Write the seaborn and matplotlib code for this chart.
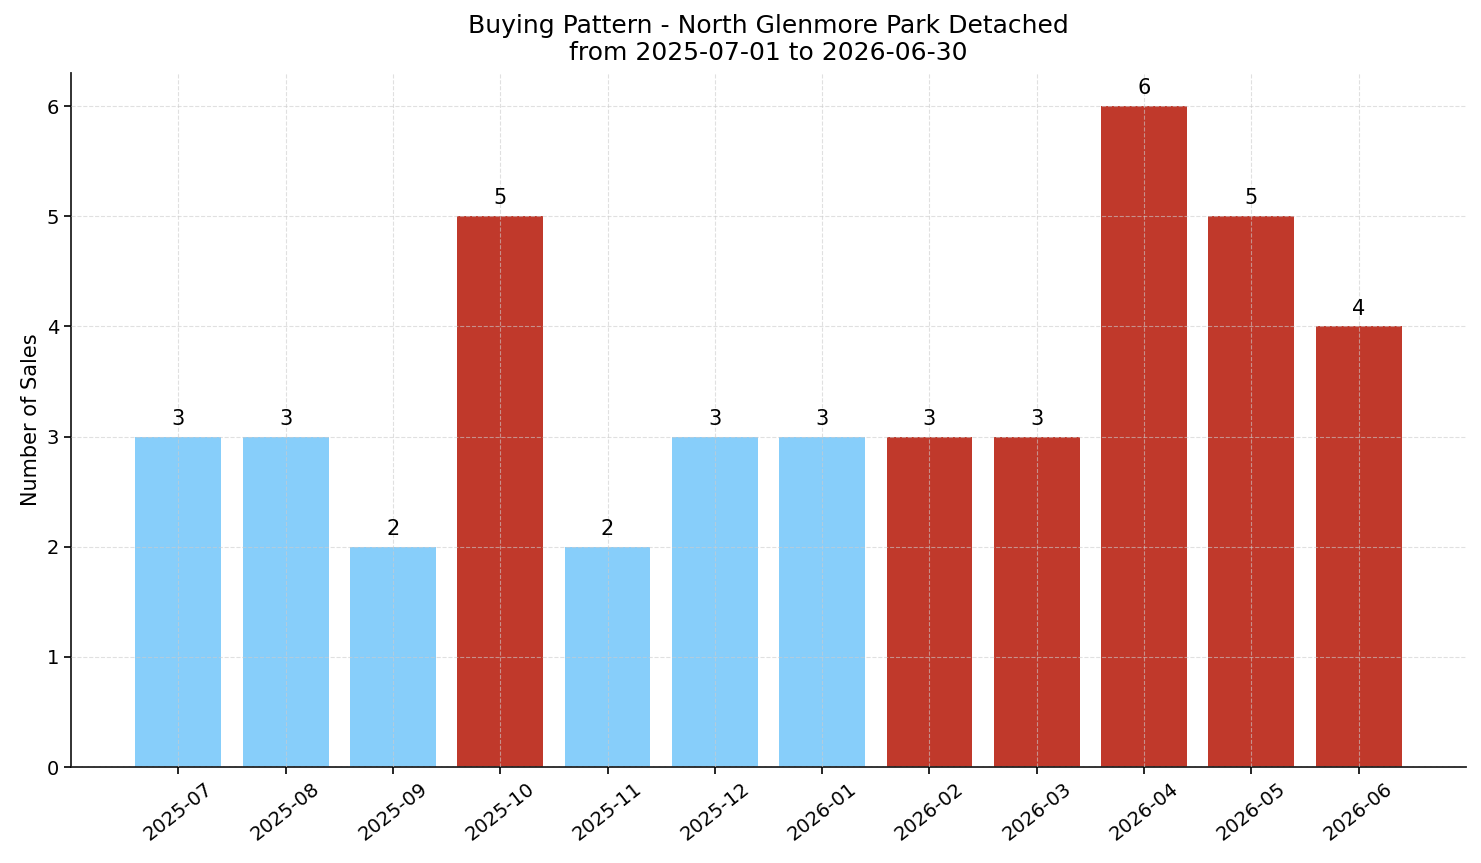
import matplotlib
matplotlib.use("Agg")
import matplotlib.pyplot as plt
import seaborn as sns
import pandas as pd

months = ["2025-07", "2025-08", "2025-09", "2025-10", "2025-11", "2025-12",
          "2026-01", "2026-02", "2026-03", "2026-04", "2026-05", "2026-06"]
sales = [3, 3, 2, 5, 2, 3, 3, 3, 3, 6, 5, 4]
highlight = [False, False, False, True, False, False, False, True, True, True, True, True]

sns.set_style("white")
plt.rcParams['font.family'] = ['DejaVu Sans']
plt.rcParams['text.color'] = 'black'
plt.rcParams['axes.labelcolor'] = 'black'
plt.rcParams['xtick.color'] = 'black'
plt.rcParams['ytick.color'] = 'black'

df = pd.DataFrame({"month": months, "sales": sales,
                   "grp": ["hot" if h else "normal" for h in highlight]})

fig = plt.figure(figsize=(14.81, 8.63), dpi=100)
ax = fig.add_axes([71/1481, 1 - 767/863, (1466-71)/1481, (767-73)/863])
sns.barplot(data=df, x="month", y="sales", hue="grp",
            palette={"normal": "#87CEFA", "hot": "#C0392B"},
            dodge=False, width=0.8, saturation=1, legend=False, ax=ax,
            linewidth=0, edgecolor="none")

for i, v in enumerate(sales):
    ax.text(i, v + 0.07, str(v), ha="center", va="bottom", fontsize=15, color="black")

ax.set_xlim(-1, 12)
ax.set_ylim(0, 6.3)
ax.set_xlabel("")
ax.set_ylabel("Number of Sales", fontsize=15, color="black")
ax.set_title("Buying Pattern - North Glenmore Park Detached\nfrom 2025-07-01 to 2026-06-30",
             fontsize=18, color="black", pad=9, linespacing=1.18)
ax.tick_params(axis="both", labelsize=14, length=5, width=1.2, left=True, bottom=True,
               colors="black")
plt.setp(ax.get_xticklabels(), rotation=38)
ax.grid(True, linestyle="--", color="#cccccc", alpha=0.6, linewidth=0.8)
ax.set_axisbelow(False)
for s in ["top", "right"]:
    ax.spines[s].set_visible(False)
for s in ["left", "bottom"]:
    ax.spines[s].set_color("#222222")
    ax.spines[s].set_linewidth(1.3)

fig.savefig("out.png", dpi=100)
